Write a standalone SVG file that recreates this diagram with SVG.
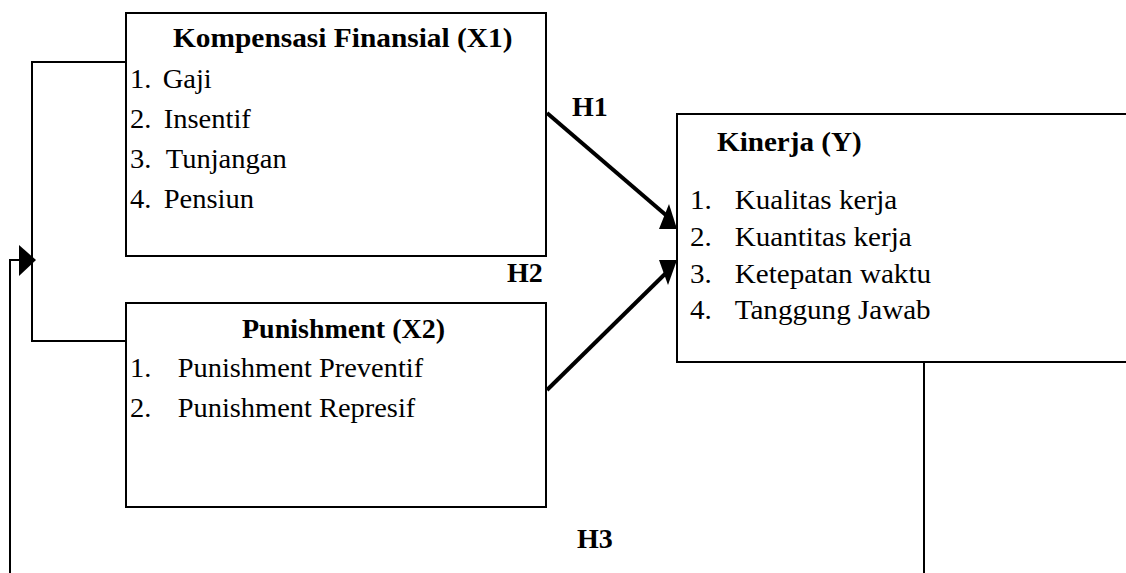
<svg xmlns="http://www.w3.org/2000/svg" width="1126" height="573" viewBox="0 0 1126 573">
<style>
.box{fill:#fff;stroke:#000;stroke-width:2}
.t{font-size:28px;fill:#000}
.b{font-weight:bold}
.ln{fill:none;stroke:#000;stroke-width:2}
.ar{fill:none;stroke:#000;stroke-width:4}
</style>
<rect width="1126" height="573" fill="#fff"/>
<g font-family="Liberation Serif, Times New Roman, serif">
<g id="connectors">
<path class="ln" d="M126,62 H32 V341 H126"/>
<path class="ln" d="M924,362 V573"/>
<path class="ln" d="M10,573 V260 H21"/>
<polygon points="19,245 36,260 19,276" fill="#000"/>
<line class="ar" x1="547" y1="113" x2="667" y2="216"/>
<polygon points="659,229 677,229 669,204" fill="#000"/>
<line class="ar" x1="547" y1="390" x2="667" y2="272"/>
<polygon points="659,260 677,260 668,285" fill="#000"/>
<text class="t b" x="572" y="116">H1</text>
<text class="t b" x="507" y="282">H2</text>
<text class="t b" x="577" y="548">H3</text>
</g>
<g id="x1">
<rect class="box" x="126" y="13" width="420" height="243"/>
<text class="t b" x="173" y="47" transform="translate(173,0) scale(1.05,1) translate(-173,0)">Kompensasi Finansial (X1)</text>
<g transform="translate(130,0) scale(1.02,1) translate(-130,0)">
<text class="t" y="88"><tspan x="130">1.</tspan><tspan x="162">Gaji</tspan></text>
<text class="t" y="128"><tspan x="130">2.</tspan><tspan x="163">Insentif</tspan></text>
<text class="t" y="168"><tspan x="130">3.</tspan><tspan x="165">Tunjangan</tspan></text>
<text class="t" y="208"><tspan x="130">4.</tspan><tspan x="163">Pensiun</tspan></text>
</g>
</g>
<g id="x2">
<rect class="box" x="126" y="303" width="420" height="204"/>
<text class="t b" x="242" y="338">Punishment (X2)</text>
<g transform="translate(130,0) scale(1.015,1) translate(-130,0)">
<text class="t" y="377"><tspan x="130">1.</tspan><tspan x="177">Punishment Preventif</tspan></text>
<text class="t" y="417"><tspan x="130">2.</tspan><tspan x="177">Punishment Represif</tspan></text>
</g>
</g>
<g id="y">
<rect class="box" x="677" y="114" width="460" height="248"/>
<g transform="translate(690,0) scale(1.04,1) translate(-690,0)">
<text class="t b" x="716" y="151">Kinerja (Y)</text>
<text class="t" y="209"><tspan x="690">1.</tspan><tspan x="733">Kualitas kerja</tspan></text>
<text class="t" y="246"><tspan x="690">2.</tspan><tspan x="733">Kuantitas kerja</tspan></text>
<text class="t" y="283"><tspan x="690">3.</tspan><tspan x="733">Ketepatan waktu</tspan></text>
<text class="t" y="319"><tspan x="690">4.</tspan><tspan x="733">Tanggung Jawab</tspan></text>
</g>
</g>
</g>
</svg>
